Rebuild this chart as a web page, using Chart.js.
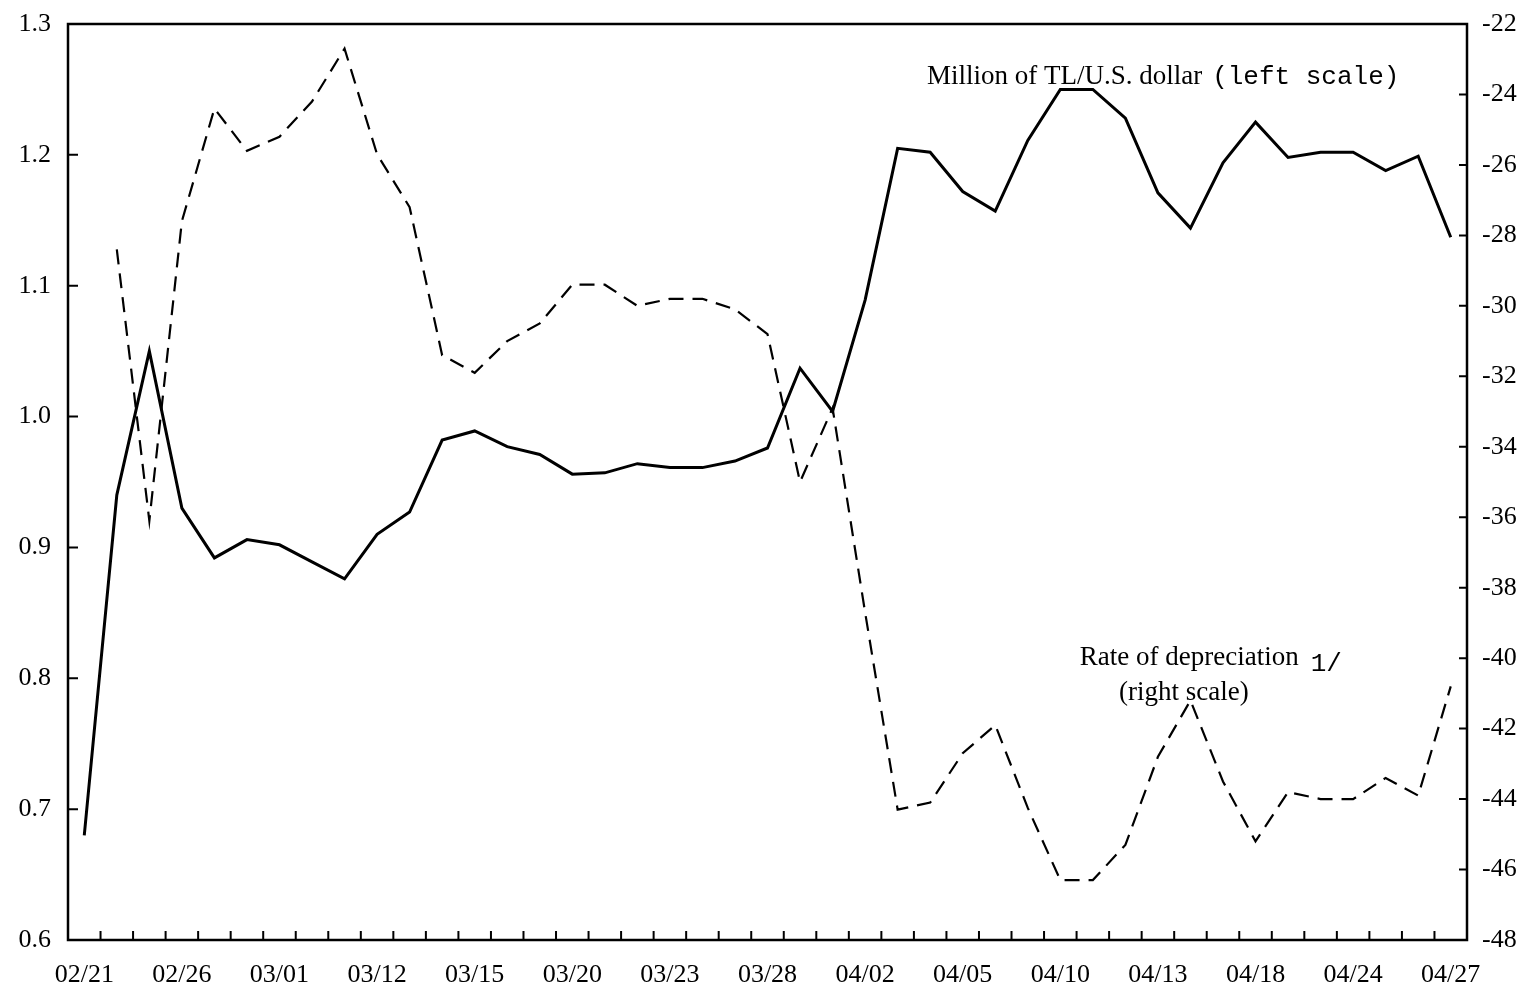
<!DOCTYPE html>
<html>
<head>
<meta charset="utf-8">
<script src="https://cdn.jsdelivr.net/npm/chart.js@4/dist/chart.umd.min.js"></script>
<style>
    html, body { margin: 0; padding: 0; background: #fff; }
    canvas { display: block; }
</style>
</head>
<body>
<canvas id="fxChart" width="1528" height="993"></canvas>
<script>
// business days, Feb-Apr
const dates = ['02/21', '02/22', '02/23', '02/26', '02/27', '02/28', '03/01', '03/02', '03/05',
    '03/12', '03/13', '03/14', '03/15', '03/16', '03/19', '03/20', '03/21', '03/22',
    '03/23', '03/26', '03/27', '03/28', '03/29', '03/30', '04/02', '04/03', '04/04',
    '04/05', '04/06', '04/09', '04/10', '04/11', '04/12', '04/13', '04/16', '04/17',
    '04/18', '04/19', '04/20', '04/24', '04/25', '04/26', '04/27'];

const tickLabels = ['02/21', '02/26', '03/01', '03/12', '03/15', '03/20', '03/23', '03/28',
    '04/02', '04/05', '04/10', '04/13', '04/18', '04/24', '04/27'];

// million TL per U.S. dollar (left scale)
const tlPerDollar = [0.68, 0.94, 1.05, 0.93, 0.892, 0.906, 0.902, 0.889, 0.876, 0.910,
    0.927, 0.982, 0.989, 0.977, 0.971, 0.956, 0.957, 0.964, 0.961, 0.961,
    0.966, 0.976, 1.037, 1.004, 1.089, 1.205, 1.202, 1.172, 1.157, 1.211,
    1.25, 1.25, 1.228, 1.171, 1.144, 1.194, 1.225, 1.198, 1.202, 1.202,
    1.188, 1.199, 1.137];

// rate of depreciation (right scale)
const depreciation = [null, -28.4, -36.1, -27.6, -24.4, -25.6, -25.2, -24.2, -22.7, -25.7,
    -27.2, -31.4, -31.9, -31.0, -30.5, -29.4, -29.4, -30.0, -29.8, -29.8,
    -30.1, -30.8, -35.0, -32.9, -38.7, -44.3, -44.1, -42.7, -41.9, -44.25,
    -46.3, -46.3, -45.3, -42.8, -41.2, -43.5, -45.2, -43.8, -44.0, -44.0,
    -43.4, -43.9, -40.8];

const leftTicks = [0.6, 0.7, 0.8, 0.9, 1.0, 1.1, 1.2, 1.3];
const rightTicks = [-48, -46, -44, -42, -40, -38, -36, -34, -32, -30, -28, -26, -24, -22];

const serif = "'Liberation Serif', 'Times New Roman', serif";
const mono = "'Liberation Mono', 'Courier New', monospace";

Chart.defaults.font.family = serif;
Chart.defaults.font.size = 26;
Chart.defaults.color = '#000';

function measure(ctx, text, font) {
    const old = ctx.font;
    ctx.font = font;
    const w = ctx.measureText(text).width;
    ctx.font = old;
    return w;
}

// box around the plot, inward ticks and the two text notes
const framePlugin = {
    id: 'frame',
    afterDraw(chart) {
        const ctx = chart.ctx;
        const area = chart.chartArea;
        const x = chart.scales.x, yl = chart.scales.yLeft, yr = chart.scales.yRight;
        ctx.save();
        ctx.strokeStyle = '#000';
        ctx.lineWidth = 2.5;
        ctx.strokeRect(area.left, area.top, area.right - area.left, area.bottom - area.top);

        ctx.lineWidth = 2;
        ctx.beginPath();
        yl.ticks.forEach(t => {
            const py = yl.getPixelForValue(t.value);
            ctx.moveTo(area.left, py);
            ctx.lineTo(area.left + 10, py);
        });
        yr.ticks.forEach(t => {
            const py = yr.getPixelForValue(t.value);
            ctx.moveTo(area.right, py);
            ctx.lineTo(area.right - 8, py);
        });
        for (let i = 1; i < dates.length; i++) {
            const px = (x.getPixelForValue(i - 1) + x.getPixelForValue(i)) / 2;
            ctx.moveTo(px, area.bottom);
            ctx.lineTo(px, area.bottom - 9);
        }
        ctx.stroke();

        ctx.fillStyle = '#000';
        ctx.textBaseline = 'alphabetic';
        ctx.textAlign = 'left';

        const serifFont = '27px ' + serif;
        const monoFont = '26px ' + mono;

        // Million of TL/U.S. dollar (left scale)
        let px = x.getPixelForValue(25.9);
        let py = yl.getPixelForValue(1.254);
        const part1 = 'Million of TL/U.S. dollar';
        ctx.font = serifFont;
        ctx.fillText(part1, px, py);
        const w1 = measure(ctx, part1, serifFont);
        ctx.font = monoFont;
        ctx.fillText('(left scale)', px + w1 + 10, py);

        // Rate of depreciation 1/ (right scale)
        px = x.getPixelForValue(30.6);
        py = yr.getPixelForValue(-40.2);
        const part2 = 'Rate of depreciation';
        ctx.font = serifFont;
        ctx.fillText(part2, px, py);
        const w2 = measure(ctx, part2, serifFont);
        ctx.font = monoFont;
        ctx.fillText('1/', px + w2 + 12, py + 6);
        ctx.font = serifFont;
        ctx.textAlign = 'center';
        ctx.fillText('(right scale)', x.getPixelForValue(33.8), yr.getPixelForValue(-41.2));
        ctx.restore();
    }
};

function noEdgePadding(scale) {
    scale.paddingTop = 0;
    scale.paddingBottom = 0;
}

new Chart(document.getElementById('fxChart'), {
    type: 'line',
    data: {
        labels: dates,
        datasets: [
            {
                label: 'Million of TL/U.S. dollar',
                data: tlPerDollar,
                yAxisID: 'yLeft',
                borderColor: '#000',
                borderWidth: 3,
                pointRadius: 0,
                tension: 0,
                fill: false
            },
            {
                label: 'Rate of depreciation',
                data: depreciation,
                yAxisID: 'yRight',
                borderColor: '#000',
                borderWidth: 2.2,
                borderDash: [15, 9],
                pointRadius: 0,
                tension: 0,
                fill: false
            }
        ]
    },
    options: {
        responsive: false,
        animation: false,
        layout: {
            padding: { top: 24, left: 0, right: 0, bottom: 0 }
        },
        plugins: {
            legend: { display: false },
            tooltip: { enabled: false }
        },
        scales: {
            x: {
                type: 'category',
                offset: true,
                grid: { display: false, drawTicks: false },
                border: { display: false },
                ticks: {
                    autoSkip: false,
                    maxRotation: 0,
                    padding: 20,
                    callback: function (value, index) {
                        const d = dates[index];
                        return tickLabels.includes(d) ? d : '';
                    }
                },
                afterFit: function (scale) { scale.height = 53; }
            },
            yLeft: {
                position: 'left',
                min: 0.6,
                max: 1.3,
                afterBuildTicks: function (scale) {
                    scale.ticks = leftTicks.map(v => ({ value: v }));
                },
                grid: { display: false, drawTicks: false },
                border: { display: false },
                ticks: {
                    padding: 17,
                    callback: v => v.toFixed(1)
                },
                afterFit: function (scale) {
                    scale.width = 68;
                    noEdgePadding(scale);
                }
            },
            yRight: {
                position: 'right',
                min: -48,
                max: -22,
                afterBuildTicks: function (scale) {
                    scale.ticks = rightTicks.map(v => ({ value: v }));
                },
                grid: { display: false, drawTicks: false },
                border: { display: false },
                ticks: {
                    padding: 15,
                    callback: v => String(v)
                },
                afterFit: function (scale) {
                    scale.width = 61;
                    noEdgePadding(scale);
                }
            }
        }
    },
    plugins: [framePlugin]
});
</script>
</body>
</html>
